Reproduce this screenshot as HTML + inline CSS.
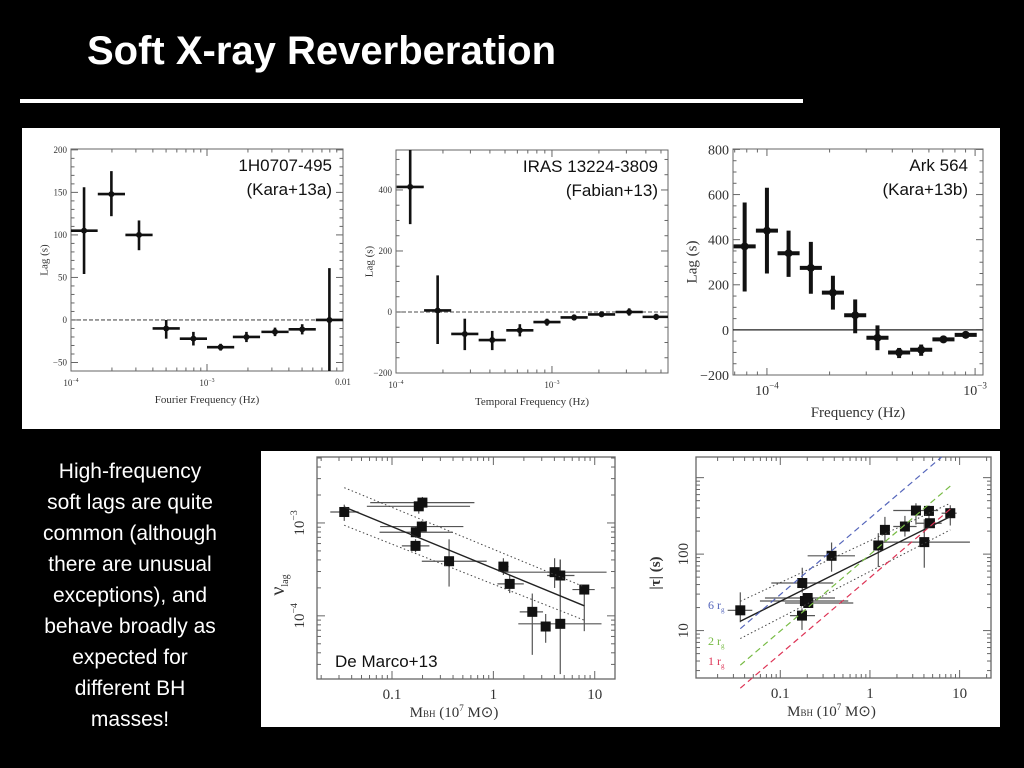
<!DOCTYPE html>
<html><head><meta charset="utf-8"><style>
html,body{margin:0;padding:0;background:#000;width:1024px;height:768px;overflow:hidden}
#title{position:absolute;left:87px;top:31px;margin:0;font:bold 40px "Liberation Sans",sans-serif;color:#fff;line-height:1}
svg{position:absolute;left:0;top:0}
</style></head><body>
<h1 id="title">Soft X-ray Reverberation</h1>
<svg id="chart" width="1024" height="768" font-family="Liberation Serif, serif"></svg>
<script>
// ---------- data: panel 1 (1H0707-495) ----------
const p1LogFreq=[-3.904,-3.703,-3.50,-3.30,-3.10,-2.90,-2.71,-2.50,-2.30,-2.10];
const p1Lag=[105,148,100,-10,-22,-32,-20,-14,-11,0];
const p1Lo=[54,122,82,-22,-30,-36,-26,-19,-17,-60];
const p1Hi=[156,175,117,0,-14,-28,-14,-9,-5,61];
const p1YTicks=[-50,0,50,100,150,200];
// ---------- panel 2 (IRAS 13224-3809) ----------
const p2LogFreq=[-3.909,-3.733,-3.559,-3.383,-3.206,-3.032,-2.858,-2.682,-2.505,-2.332];
const p2Lag=[410,5,-72,-92,-60,-33,-18,-8,0,-16];
const p2Lo=[288,-105,-125,-125,-80,-45,-28,-16,-12,-26];
const p2Hi=[533,120,-22,-62,-40,-22,-8,2,12,-6];
const p2YTicks=[-200,0,200,400];
// ---------- panel 3 (Ark 564) ----------
const p3LogFreq=[-4.107,-4.0,-3.896,-3.789,-3.683,-3.576,-3.469,-3.365,-3.259,-3.152,-3.045];
const p3Lag=[370,440,340,275,165,65,-35,-100,-88,-42,-22];
const p3Lo=[170,250,235,160,90,-15,-90,-125,-115,-55,-30];
const p3Hi=[565,630,440,390,240,135,20,-80,-65,-30,-15];
const p3YTicks=[-200,0,200,400,600,800];
// ---------- De Marco: nu_lag vs M ----------
const dmLogM=[-1.471,-0.736,-0.700,-0.706,-0.765,-0.768,-0.437,0.099,0.161,0.604,0.660,0.897,0.384,0.516,0.660];
const dmLogMLo=[-1.609,-1.248,-1.215,-1.117,-1.123,-0.903,-0.706,0.05,0.04,0.099,0.53,0.78,0.26,0.50,0.246];
const dmLogMHi=[-1.330,-0.230,-0.187,-0.296,-0.401,-0.631,-0.066,0.15,0.30,1.117,0.80,1.0,0.49,0.53,1.067];
const dmLogNu=[-2.882,-2.821,-2.781,-3.039,-3.100,-3.247,-3.412,-3.470,-3.656,-3.530,-3.566,-3.717,-3.957,-4.115,-4.086];
const dmLogNuLo=[-2.978,-2.90,-2.86,-3.10,-3.16,-3.315,-3.685,-3.560,-3.755,-3.700,-3.785,-4.165,-4.420,-4.290,-4.627];
const dmLogNuHi=[-2.803,-2.76,-2.72,-2.98,-3.04,-3.175,-3.176,-3.380,-3.560,-3.380,-3.394,-3.670,-3.760,-3.980,-3.394];
const dmFit=[[-1.471,-2.828],[0.897,-3.892]];
const dmUpper=[[-1.471,-2.620],[0.897,-3.688]];
const dmLower=[[-1.471,-3.025],[0.897,-4.047]];
// ---------- Kara: |tau| vs M ----------
const kLogM=[-1.446,-0.755,-0.725,-0.695,-0.688,-0.758,-0.428,0.093,0.167,0.390,0.513,0.658,0.669,0.606,0.896];
const kLogMLo=[-1.587,-1.100,-1.227,-1.171,-0.948,-0.892,-0.695,0.056,0.13,0.26,0.26,0.62,0.52,0.093,0.799];
const kLogMHi=[-1.312,-0.409,-0.242,-0.390,-0.186,-0.613,-0.167,0.130,0.20,0.52,0.76,0.70,0.80,1.115,0.967];
const kLogTau=[1.265,1.622,1.387,1.426,1.361,1.196,1.978,2.113,2.317,2.361,2.570,2.565,2.404,2.157,2.535];
const kLogTauLo=[1.109,1.496,1.33,1.37,1.30,1.009,1.770,1.830,2.148,2.230,2.387,2.374,2.35,1.822,2.374];
const kLogTauHi=[1.500,1.822,1.44,1.48,1.42,1.291,2.152,2.274,2.487,2.500,2.665,2.635,2.46,2.457,2.639];
const kFit=[[-1.446,1.122],[0.896,2.491]];
const kUpper=[[-1.446,1.383],[0.896,2.665]];
const kLower=[[-1.446,0.896],[0.896,2.317]];
const rgMultiples=[6,2,1];
const rgColors=['#5566bb','#77bb44','#dd3355'];
const massTicks=[-1,0,1];
const massTickLabels=['0.1','1','10'];

const NS='http://www.w3.org/2000/svg';
const svg=document.getElementById('chart');
function add(parent,tag,attrs,name,inter){
  const e=document.createElementNS(NS,tag);
  for(const k in attrs) e.setAttribute(k,attrs[k]);
  
  
  parent.appendChild(e);return e;
}
function lin(d0,d1,p0,p1){return v=>p0+(v-d0)/(d1-d0)*(p1-p0);}
function txt(parent,x,y,s,attrs,name){const t=add(parent,'text',Object.assign({x:x,y:y},attrs),name);t.textContent=s;return t;}
function pow10(parent,x,y,exp,size,name,rot){
  const t=add(parent,'text',{x:x,y:y,'font-size':size,'text-anchor':'middle',fill:'#333'},name);
  if(rot) t.setAttribute('transform','rotate(-90 '+x+' '+y+')');
  t.appendChild(document.createTextNode('10'));
  const s=document.createElementNS(NS,'tspan');
  s.setAttribute('dy',-size*0.45);s.setAttribute('font-size',size*0.65);
  s.textContent='\u2212'+exp;t.appendChild(s);return t;
}

// slide frame
add(svg,'rect',{x:20,y:99,width:783,height:4,fill:'#fff'},'title-underline');
add(svg,'rect',{x:22,y:128,width:978,height:301,fill:'#fff'},'top-figure-panel');
add(svg,'rect',{x:261,y:451,width:739,height:276,fill:'#fff'},'bottom-figure-panel');
const bodyLines=['High-frequency','soft lags are quite','common (although','there are unusual','exceptions), and','behave broadly as','expected for','different BH','masses!'];
const tb=add(svg,'g',{},'summary-text');
bodyLines.forEach((l,i)=>{txt(tb,130,478+31*i,l,{'font-family':'Liberation Sans, sans-serif','font-size':21,fill:'#fff','text-anchor':'middle'},'summary-line');});

function frame(g,x0,y0,x1,y1,w){add(g,'rect',{x:x0,y:y0,width:x1-x0,height:y1-y0,fill:'none',stroke:'#666','stroke-width':w||1},'plot-frame');}
function logMinor(g,X,lo,hi,y0,y1,len,vertical){
  for(let d=Math.floor(lo);d<=hi;d++){for(let m=1;m<10;m++){const L=d+Math.log10(m);if(L<lo||L>hi)continue;const l=m===1?len*2:len;const p=X(L);
    if(!vertical){add(g,'line',{x1:p,x2:p,y1:y1,y2:y1-l,stroke:'#666'},'x-tick');add(g,'line',{x1:p,x2:p,y1:y0,y2:y0+l,stroke:'#666'},'x-tick');}
    else{add(g,'line',{y1:p,y2:p,x1:y0,x2:y0+l,stroke:'#666'},'y-tick');add(g,'line',{y1:p,y2:p,x1:y1,x2:y1-l,stroke:'#666'},'y-tick');}}}
}
function linTicks(g,Y,x0,x1,lo,hi,step,major){
  for(let v=lo;v<=hi+1e-9;v+=step){const p=Y(v);const l=(Math.abs(v%major)<1e-9)?7:3.5;
    add(g,'line',{x1:x0,x2:x0+l,y1:p,y2:p,stroke:'#666'},'y-tick');add(g,'line',{x1:x1,x2:x1-l,y1:p,y2:p,stroke:'#666'},'y-tick');}
}
function lagPanel(name,box,xr,yr,fx,lag,lo,hi,halfw,yt,minStep,majStep,lw,r,fs,xlabel,xlabFs,dash,titles,tX,xtickExp){
  const g=add(svg,'g',{},name);
  const X=lin(xr[0],xr[1],box[0],box[2]);const Y=lin(yr[0],yr[1],box[3],box[1]);
  frame(g,box[0],box[1],box[2],box[3]);
  logMinor(g,X,xr[0],xr[1],box[1],box[3],3.5,false);
  linTicks(g,Y,box[0],box[2],yr[0],yr[1],minStep,majStep);
  add(g,'line',{x1:box[0],x2:box[2],y1:Y(0),y2:Y(0),stroke:dash?'#888':'#222','stroke-width':dash?1.6:1.2,'stroke-dasharray':dash?'4 2':'none'},'zero-line');
  yt.forEach(v=>{txt(g,box[0]-4,Y(v)+fs*0.35,v<0?'\u2212'+(-v):String(v),{'font-size':fs,'text-anchor':'end',fill:'#333'},'y-tick-label');});
  xtickExp.forEach((e,i)=>{ if(e==='0.01'){txt(g,X(-2),box[3]+fs+5,'0.01',{'font-size':fs,'text-anchor':'middle',fill:'#333'},'x-tick-label');} else pow10(g,X(-e),box[3]+fs+6,e,fs,'x-tick-label');});
  txt(g,(box[0]+box[2])/2,box[3]+fs*2+14,xlabel,{'font-size':xlabFs,'text-anchor':'middle',fill:'#333'},'x-axis-title');
  const ly=(box[1]+box[3])/2;const lx=box[0]-fs*2.6;
  txt(g,lx,ly,'Lag (s)',{'font-size':xlabFs,'text-anchor':'middle',fill:'#333',transform:'rotate(-90 '+lx+' '+ly+')'},'y-axis-title');
  const ser=add(g,'g',{},'lag-series');
  fx.forEach((f,i)=>{
    const xl=Math.max(box[0],X(f-halfw)),xh=Math.min(box[2],X(f+halfw));
    add(ser,'line',{x1:xl,x2:xh,y1:Y(lag[i]),y2:Y(lag[i]),stroke:'#111','stroke-width':lw},'x-error-bar');
    add(ser,'line',{x1:X(f),x2:X(f),y1:Y(Math.max(lo[i],yr[0])),y2:Y(Math.min(hi[i],yr[1])),stroke:'#111','stroke-width':lw},'y-error-bar');
    add(ser,'circle',{cx:X(f),cy:Y(lag[i]),r:r,fill:'#111'},'data-point');
  });
  titles.forEach((t,i)=>{txt(g,tX,box[1]+22+24*i,t,{'font-family':'Liberation Sans, sans-serif','font-size':17,'text-anchor':'end',fill:'#111'},'source-label');});
}
lagPanel('panel-1h0707',[71,149,343,371],[-4,-2],[-60,201],p1LogFreq,p1Lag,p1Lo,p1Hi,0.1,p1YTicks,10,50,2.6,3,9,'Fourier Frequency (Hz)',11,true,['1H0707-495','(Kara+13a)'],332,[4,3,'0.01']);
lagPanel('panel-iras13224',[396,150,668,373],[-4,-2.256],[-200,531],p2LogFreq,p2Lag,p2Lo,p2Hi,0.087,p2YTicks,50,200,2.6,3,9,'Temporal Frequency (Hz)',11,true,['IRAS 13224-3809','(Fabian+13)'],658,[4,3]);
lagPanel('panel-ark564',[733,149,983,375],[-4.163,-2.962],[-200,802],p3LogFreq,p3Lag,p3Lo,p3Hi,0.053,p3YTicks,50,200,4,4,14,'Frequency (Hz)',15,false,['Ark 564','(Kara+13b)'],968,[4,3]);

// ---------- mass plots ----------
function massPlot(name,box,xr,yr,lm,lmlo,lmhi,ly,lylo,lyhi,fit,up,lowr,fs){
  const g=add(svg,'g',{},name);
  const X=lin(xr[0],xr[1],box[0],box[2]);const Y=lin(yr[0],yr[1],box[3],box[1]);
  frame(g,box[0],box[1],box[2],box[3],1.3);
  logMinor(g,X,xr[0],xr[1],box[1],box[3],4,false);
  logMinor(g,Y,yr[0],yr[1],box[0],box[2],4,true);
  massTicks.forEach((m,i)=>txt(g,X(m),box[3]+20,massTickLabels[i],{'font-size':15,'text-anchor':'middle',fill:'#333'},'x-tick-label'));
  const xt=txt(g,(box[0]+box[2])/2-12,box[3]+38,'M',{'font-size':15,'text-anchor':'middle',fill:'#333'},'x-axis-title');
  const a=document.createElementNS(NS,'tspan');a.setAttribute('font-size',9);a.textContent='BH';xt.appendChild(a);
  const b=document.createElementNS(NS,'tspan');b.textContent=' (10';xt.appendChild(b);
  const c=document.createElementNS(NS,'tspan');c.setAttribute('font-size',9);c.setAttribute('dy',-6);c.textContent='7';xt.appendChild(c);
  const d=document.createElementNS(NS,'tspan');d.setAttribute('dy',6);d.textContent=' M\u2299)';xt.appendChild(d);
  const ser=add(g,'g',{},'mass-series');
  lm.forEach((m,i)=>{
    add(ser,'line',{x1:X(lmlo[i]),x2:X(lmhi[i]),y1:Y(ly[i]),y2:Y(ly[i]),stroke:'#555','stroke-width':1.2},'x-error-bar');
    add(ser,'line',{x1:X(m),x2:X(m),y1:Y(lylo[i]),y2:Y(lyhi[i]),stroke:'#555','stroke-width':1.2},'y-error-bar');
  });
  add(g,'line',{x1:X(fit[0][0]),y1:Y(fit[0][1]),x2:X(fit[1][0]),y2:Y(fit[1][1]),stroke:'#222','stroke-width':1.4},'fit-line');
  [up,lowr].forEach(l=>add(g,'line',{x1:X(l[0][0]),y1:Y(l[0][1]),x2:X(l[1][0]),y2:Y(l[1][1]),stroke:'#444','stroke-width':1,'stroke-dasharray':'1.5 2.5'},'confidence-line'));
  lm.forEach((m,i)=>add(ser,'rect',{x:X(m)-5,y:Y(ly[i])-5,width:10,height:10,fill:'#111'},'data-point'));
  return {g:g,X:X,Y:Y};
}
const dm=massPlot('nu-lag-vs-mass',[317,457,615,679],[-1.74,1.20],[-4.68,-2.29],dmLogM,dmLogMLo,dmLogMHi,dmLogNu,dmLogNuLo,dmLogNuHi,dmFit,dmUpper,dmLower);
pow10(dm.g,304,dm.Y(-3),3,15,'y-tick-label',true);
pow10(dm.g,304,dm.Y(-4),4,15,'y-tick-label',true);
const nl=txt(dm.g,284,585,'\u03BD',{'font-size':20,'text-anchor':'middle',fill:'#333',transform:'rotate(-90 284 585)'},'y-axis-title');
const nls=document.createElementNS(NS,'tspan');nls.setAttribute('font-size',10);nls.setAttribute('dy',4);nls.textContent='lag';nl.appendChild(nls);
txt(dm.g,335,667,'De Marco+13',{'font-family':'Liberation Sans, sans-serif','font-size':17,fill:'#111'},'source-label');

const kp=massPlot('lag-vs-mass',[696,457,991,678],[-1.94,1.35],[0.38,3.27],kLogM,kLogMLo,kLogMHi,kLogTau,kLogTauLo,kLogTauHi,kFit,kUpper,kLower);
// light travel: tau = n * GM/c^3, 49.3 s per 10^7 Msun
rgMultiples.forEach((n,i)=>{
  const f=L=>Math.log10(n*49.3)+L;
  let x0=-1.446,x1=Math.min(1.0,kp.Y? (3.27-Math.log10(n*49.3)) : 1);
  x1=Math.min(0.9,3.27-Math.log10(n*49.3));
  add(kp.g,'line',{x1:kp.X(x0),y1:kp.Y(f(x0)),x2:kp.X(x1),y2:kp.Y(f(x1)),stroke:rgColors[i],'stroke-width':1.2,'stroke-dasharray':'6 4'},'rg-line');
  const t=txt(kp.g,708,[609,645,665][i],n+' r',{'font-size':12,fill:rgColors[i]},'rg-label');
  const s=document.createElementNS(NS,'tspan');s.setAttribute('font-size',7);s.setAttribute('dy',3);s.textContent='g';t.appendChild(s);
});
txt(kp.g,688,kp.Y(2),'100',{'font-size':15,'text-anchor':'middle',fill:'#333',transform:'rotate(-90 688 '+kp.Y(2)+')'},'y-tick-label');
txt(kp.g,688,kp.Y(1),'10',{'font-size':15,'text-anchor':'middle',fill:'#333',transform:'rotate(-90 688 '+kp.Y(1)+')'},'y-tick-label');
txt(kp.g,660,573,'|\u03C4| (s)',{'font-size':15,'font-weight':'bold','text-anchor':'middle',fill:'#333',transform:'rotate(-90 660 573)'},'y-axis-title');
</script>
</body></html>
